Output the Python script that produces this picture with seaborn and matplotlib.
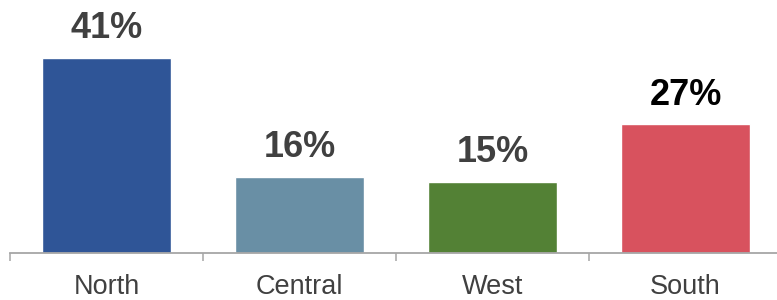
import matplotlib
matplotlib.use("Agg")
import matplotlib.pyplot as plt
import seaborn as sns
import pandas as pd

categories = ["North", "Central", "West", "South"]
values = [41, 16, 15, 27]
label_texts = ["41%", "16%", "15%", "27%"]
bar_colors = ["#2F5597", "#698FA5", "#538135", "#D8525E"]
label_colors = ["#404040", "#404040", "#404040", "#000000"]

sns.set_theme(style="white")
plt.rcParams["font.family"] = ["Liberation Sans", "DejaVu Sans"]

df = pd.DataFrame({"region": categories, "share": values})

fig = plt.figure(figsize=(7.77, 3.0), dpi=100)
ax = fig.add_axes([10 / 777, 47 / 300, 772 / 777, 253 / 300])

sns.barplot(data=df, x="region", y="share", hue="region", palette=bar_colors,
            order=categories, hue_order=categories, width=0.67, legend=False,
            saturation=1, ax=ax)

ax.set_ylim(0, 253 / 4.76)
ax.set_xlim(-0.5, 3.5)

for i, container in enumerate(ax.containers):
    ax.bar_label(container, labels=[label_texts[i]], padding=8.5,
                 fontsize=26, fontweight="bold", color=label_colors[i])

for s in ["top", "right", "left"]:
    ax.spines[s].set_visible(False)
ax.spines["bottom"].set_color("#A6A6A6")
ax.spines["bottom"].set_linewidth(1.3)

ax.set_yticks([])
ax.set_xlabel("")
ax.set_ylabel("")
ax.set_xticks([0, 1, 2, 3])
ax.set_xticklabels(categories, fontsize=19.5, color="#404040")
ax.tick_params(axis="x", which="major", length=0, pad=15)
ax.set_xticks([-0.5, 0.5, 1.5, 2.5, 3.5], minor=True)
ax.tick_params(axis="x", which="minor", length=5.5, width=1.1, color="#A6A6A6",
               direction="out", bottom=True)

fig.savefig("out.png", dpi=100)
